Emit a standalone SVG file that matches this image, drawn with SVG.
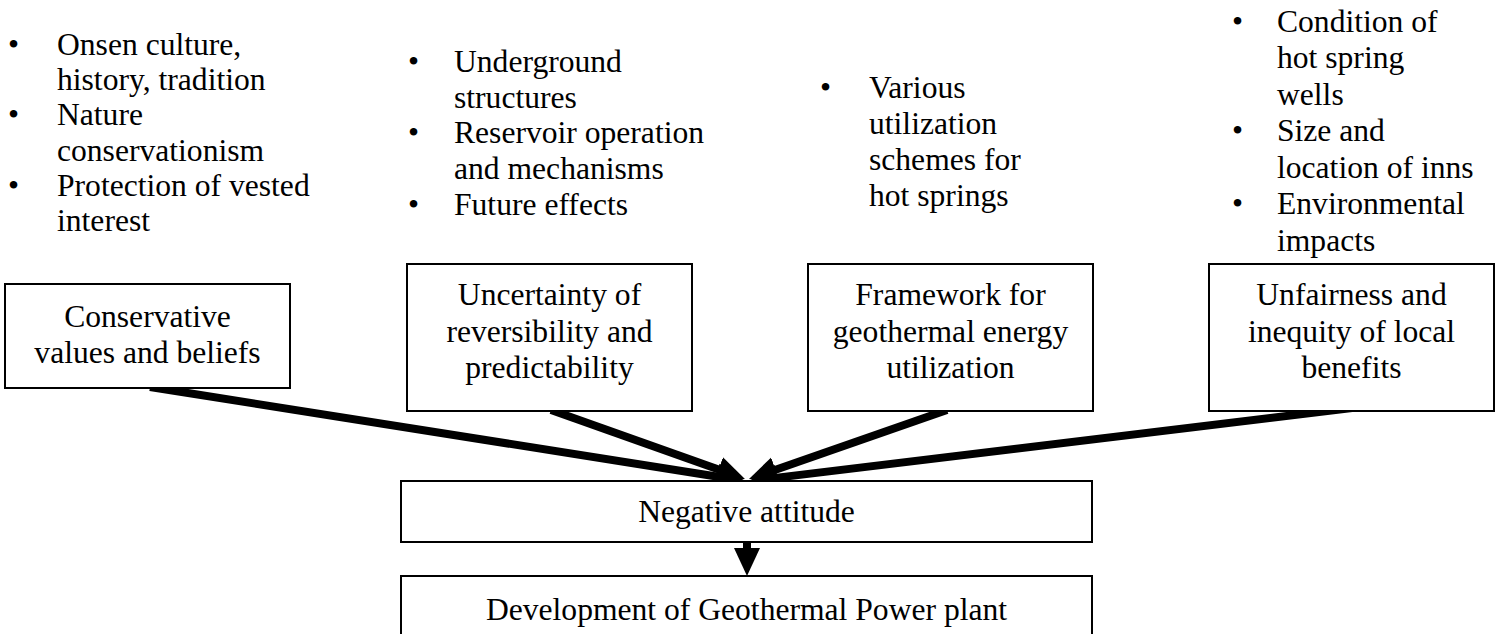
<svg xmlns="http://www.w3.org/2000/svg" width="1500" height="634" viewBox="0 0 1500 634" font-family="Liberation Serif, serif" font-size="31.6">
<style>
.c{text-anchor:middle}
.box{fill:#fff;stroke:#000;stroke-width:2}
.arr{stroke:#000;stroke-width:8;fill:none;marker-end:url(#ah)}
</style>
<defs>
<marker id="ah" markerUnits="userSpaceOnUse" viewBox="0 -14 29 28" refX="12" refY="0" markerWidth="29" markerHeight="28" orient="auto">
<path d="M0,-13 L28,0 L0,13 z" fill="#000"/>
</marker>
</defs>
<rect width="1500" height="634" fill="#fff"/>

<g id="list1">
<text x="8" y="55">•</text><text x="57" y="55">Onsen culture,</text>
<text x="57" y="90">history, tradition</text>
<text x="8" y="125">•</text><text x="57" y="125">Nature</text>
<text x="57" y="161">conservationism</text>
<text x="8" y="196">•</text><text x="57" y="196">Protection of vested</text>
<text x="57" y="231">interest</text>
</g>

<g id="list2">
<text x="408" y="72">•</text><text x="454" y="72">Underground</text>
<text x="454" y="108">structures</text>
<text x="408" y="143">•</text><text x="454" y="143">Reservoir operation</text>
<text x="454" y="179">and mechanisms</text>
<text x="408" y="215">•</text><text x="454" y="215">Future effects</text>
</g>

<g id="list3">
<text x="820" y="98">•</text><text x="869" y="98">Various</text>
<text x="869" y="134">utilization</text>
<text x="869" y="170">schemes for</text>
<text x="869" y="206">hot springs</text>
</g>

<g id="list4">
<text x="1232" y="32">•</text><text x="1277" y="32">Condition of</text>
<text x="1277" y="68">hot spring</text>
<text x="1277" y="105">wells</text>
<text x="1232" y="141">•</text><text x="1277" y="141">Size and</text>
<text x="1277" y="178">location of inns</text>
<text x="1232" y="214">•</text><text x="1277" y="214">Environmental</text>
<text x="1277" y="251">impacts</text>
</g>

<g id="connectors">
<line class="arr" x1="150" y1="387" x2="729.2" y2="478.5"/>
<line class="arr" x1="551" y1="410" x2="729.9" y2="473.6"/>
<line class="arr" x1="947" y1="410" x2="764.1" y2="473.7"/>
<line class="arr" x1="1352" y1="408" x2="764.9" y2="479.1"/>
<line class="arr" x1="747" y1="542" x2="747" y2="560"/>
</g>

<g id="node-conservative">
<rect class="box" x="5" y="284" width="285" height="104"/>
<text class="c" x="147.5" y="327">Conservative</text>
<text class="c" x="147.5" y="363">values and beliefs</text>
</g>

<g id="node-uncertainty">
<rect class="box" x="407" y="264" width="285" height="147"/>
<text class="c" x="549.5" y="305">Uncertainty of</text>
<text class="c" x="549.5" y="341.5">reversibility and</text>
<text class="c" x="549.5" y="378">predictability</text>
</g>

<g id="node-framework">
<rect class="box" x="808" y="264" width="285" height="147"/>
<text class="c" x="950.5" y="305">Framework for</text>
<text class="c" x="950.5" y="341.5">geothermal energy</text>
<text class="c" x="950.5" y="378">utilization</text>
</g>

<g id="node-unfairness">
<rect class="box" x="1209" y="264" width="285" height="147"/>
<text class="c" x="1351.5" y="305">Unfairness and</text>
<text class="c" x="1351.5" y="341.5">inequity of local</text>
<text class="c" x="1351.5" y="378">benefits</text>
</g>

<g id="node-negative">
<rect class="box" x="401" y="481" width="691" height="61"/>
<text class="c" x="746.5" y="522">Negative attitude</text>
</g>

<g id="node-development">
<rect class="box" x="401" y="576" width="691" height="80"/>
<text class="c" x="746.5" y="620">Development of Geothermal Power plant</text>
</g>
</svg>
